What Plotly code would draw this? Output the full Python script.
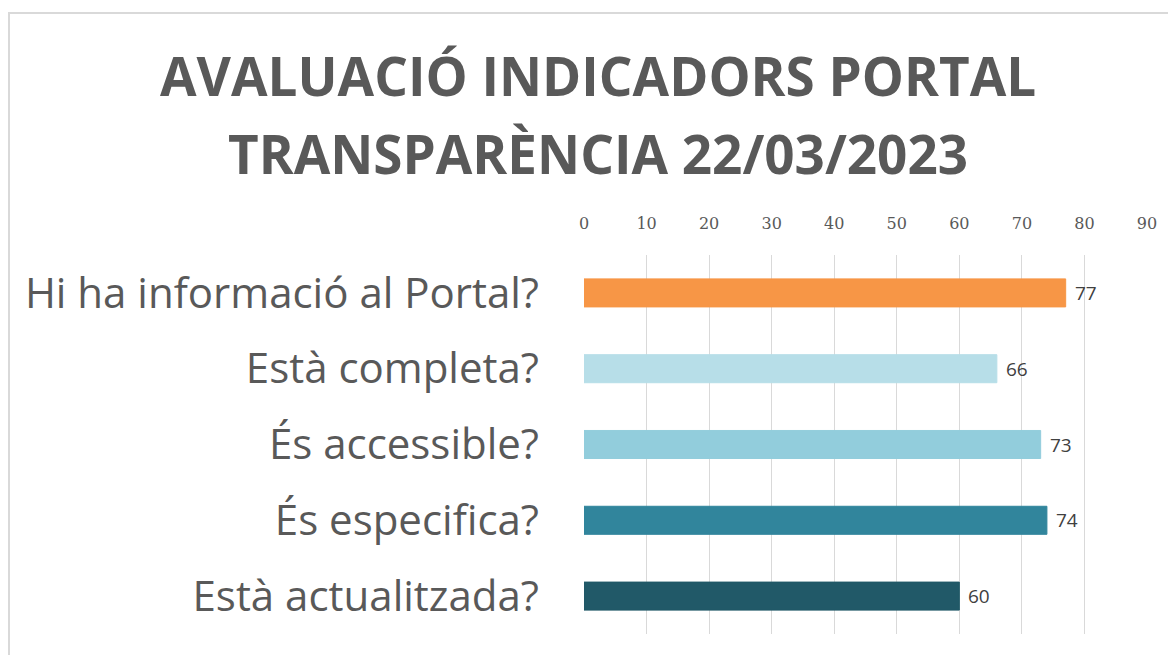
import plotly.graph_objects as go

categories = ["Hi ha informació al Portal?", "Està completa?", "És accessible?",
              "És especifica?", "Està actualitzada?"]
values = [77, 66, 73, 74, 60]
colors = ["#F79646", "#B7DEE8", "#92CDDC", "#31859C", "#215968"]
tick_vals = [0, 10, 20, 30, 40, 50, 60, 70, 80, 90]
title_lines = ["AVALUACIÓ INDICADORS PORTAL", "TRANSPARÈNCIA 22/03/2023"]

W, H = 1176, 655
OFF = 8  # page body margin
L, R, T, B = 576, 37, 247, 29
PW = W - L - R
PH = H - T - B


def px_x(sx):
    return (sx - OFF - L) / PW


def px_y(sy):
    return (H - B - (sy - OFF)) / PH


fig = go.Figure(go.Bar(
    x=values, y=categories, orientation="h",
    marker=dict(color=colors, line=dict(color=colors, width=1)),
    width=0.37,
    hoverinfo="x+y",
))

annotations = []
for line, sy in zip(title_lines, [75, 153]):
    annotations.append(dict(
        text="<b>" + line + "</b>", x=px_x(598), y=px_y(sy), xref="paper", yref="paper",
        xanchor="center", yanchor="middle", showarrow=False,
        font=dict(family="Open Sans", size=53, color="#595959")))
for c, v in zip(categories, values):
    annotations.append(dict(
        text=str(v), x=v, y=c, xref="x", yref="y", xanchor="left", yanchor="middle",
        xshift=7, showarrow=False,
        font=dict(family="Open Sans", size=19, color="#404040")))

fig.update_layout(
    width=W, height=H,
    margin=dict(l=L, r=R, t=T, b=B),
    paper_bgcolor="white", plot_bgcolor="white",
    showlegend=False,
    annotations=annotations,
    shapes=[dict(type="rect", xref="paper", yref="paper",
                 x0=px_x(9), x1=px_x(1200), y0=px_y(700), y1=px_y(13),
                 line=dict(color="#D9D9D9", width=2), layer="below")],
)

fig.update_xaxes(
    side="top", range=[0, 90], tickvals=tick_vals, showgrid=True,
    gridcolor="#D9D9D9", gridwidth=1, zeroline=False, showline=False,
    ticks="", ticklabelstandoff=22,
    tickfont=dict(family="DejaVu Serif", size=16, color="#595959"),
)
fig.update_yaxes(
    autorange="reversed", showgrid=False, showline=False, ticks="",
    ticklabelstandoff=44,
    tickfont=dict(family="Open Sans", size=42, color="#595959"),
)

fig.write_html("out.html")
